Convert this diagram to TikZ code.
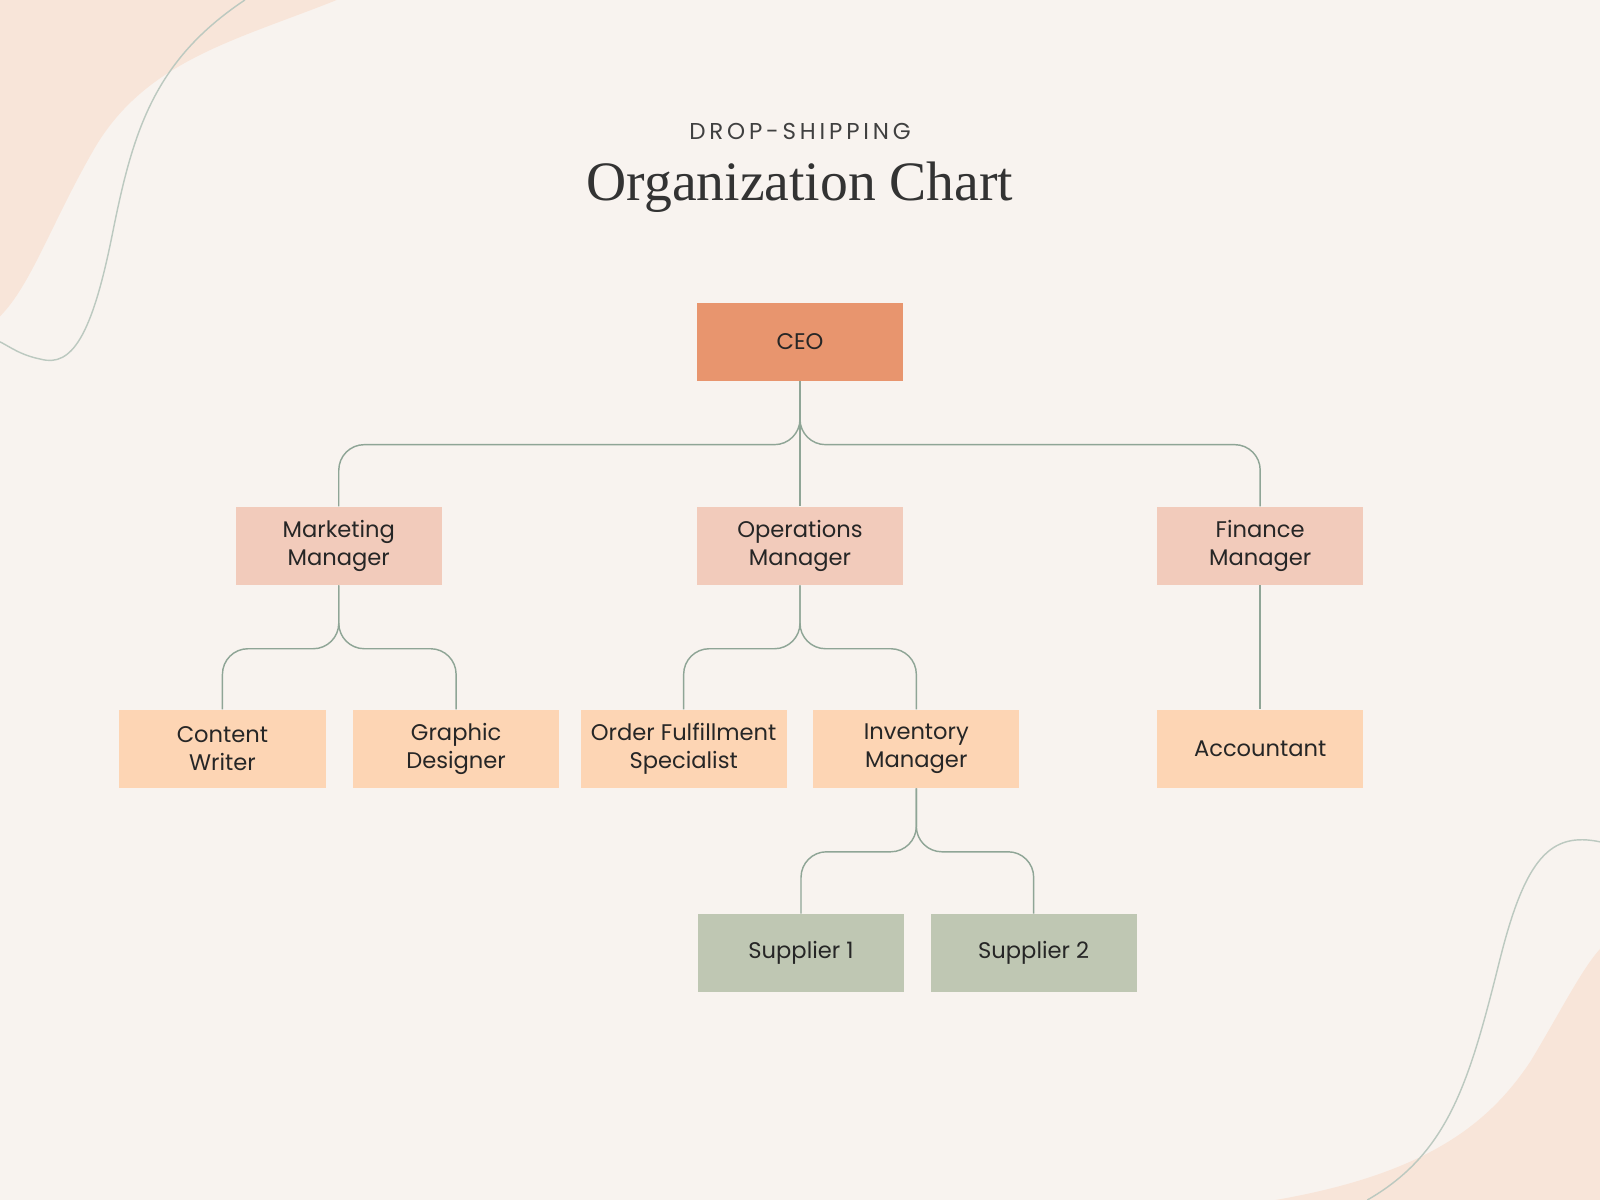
\documentclass[tikz,border=0pt]{standalone}
\usepackage{fontspec}
\setmainfont{Poppins}
\newfontfamily\titlefont{Liberation Serif}
\begin{document}
\begin{tikzpicture}[x=0.01cm,y=-0.01cm,
 box/.style={minimum width=202\pgflinewidth*0+2.02cm,minimum height=0.76cm,align=center,inner sep=0pt,font=\fontsize{6.3}{7.8}\selectfont,text=black!85},
 l1/.style={box,fill=ceoC}, l2/.style={box,fill=mgrC}, l3/.style={box,fill=stfC}, l4/.style={box,fill=supC},
 conn/.style={draw=lineC,line width=0.4pt,rounded corners=0.25cm}]
\definecolor{bgC}{HTML}{F8F3EF}\definecolor{blobC}{HTML}{F8E5D9}\definecolor{lineC}{HTML}{8FA596}
\definecolor{ceoC}{HTML}{E8956E}\definecolor{mgrC}{HTML}{F2CBBB}\definecolor{stfC}{HTML}{FDD5B4}\definecolor{supC}{HTML}{BFC7B3}
\fill[bgC] (0,0) rectangle (1568,1176);
\useasboundingbox (0,0) rectangle (1568,1176);
\fill[blobC] (0,0) -- (330,0) .. controls (230,40) and (140,60) .. (90,150) .. controls (50,220) and (30,280) .. (0,310) -- cycle;
\draw[lineC!60,line width=0.4pt] (240,0) .. controls (150,60) and (130,130) .. (110,230) .. controls (90,330) and (70,360) .. (40,352) .. controls (20,348) and (10,340) .. (0,335);
\fill[blobC] (1568,930) -- (1568,1176) -- (1250,1176) .. controls (1400,1150) and (1460,1100) .. (1500,1040) .. controls (1530,990) and (1550,950) .. (1568,930) -- cycle;
\draw[lineC!60,line width=0.4pt] (1568,825) .. controls (1520,815) and (1495,840) .. (1470,940) .. controls (1440,1060) and (1420,1130) .. (1340,1176);
\node[font=\fontsize{6.4}{7}\selectfont,text=black!75] (sub) at (784,129) {D\,R\,O\,P\,-\,S\,H\,I\,P\,P\,I\,N\,G};
\node[font=\titlefont\fontsize{15.5}{18}\selectfont,text=black!80] (title) at (784,183) {Organization Chart};
\node[l1] (ceo) at (784,335) {CEO};
\node[l2] (mm) at (332,535) {Marketing\\Manager};
\node[l2] (om) at (784,535) {Operations\\Manager};
\node[l2] (fm) at (1235,535) {Finance\\Manager};
\node[l3] (cw) at (218,734) {Content\\Writer};
\node[l3] (gd) at (447,734) {Graphic\\Designer};
\node[l3] (ofs) at (670,734) {Order Fulfillment\\Specialist};
\node[l3] (im) at (898,734) {Inventory\\Manager};
\node[l3] (acc) at (1235,734) {Accountant};
\node[l4] (s1) at (785,934) {Supplier 1};
\node[l4] (s2) at (1013,934) {Supplier 2};
\foreach \p/\c in {ceo/mm,ceo/fm,mm/cw,mm/gd,om/ofs,om/im,im/s1,im/s2}
  \draw[conn] (\p.south) -- ([yshift=-0.62cm]\p.south) -| (\c.north);
\draw[conn] (ceo.south) -- (om.north);
\draw[conn] (fm.south) -- (acc.north);
\end{tikzpicture}
\end{document}
